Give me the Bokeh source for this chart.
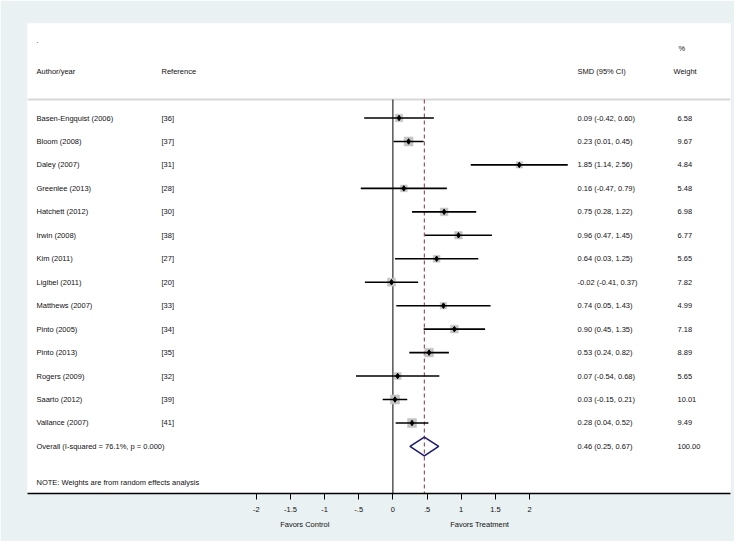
import numpy as np
from bokeh.plotting import figure
from bokeh.models import Range1d, FixedTicker, ColumnDataSource, LinearAxis
from bokeh.core.properties import value
from bokeh.embed import file_html
from bokeh.resources import INLINE

# ---------------- data ----------------
authors = ["Basen-Engquist (2006)", "Bloom (2008)", "Daley (2007)", "Greenlee (2013)",
           "Hatchett (2012)", "Irwin (2008)", "Kim (2011)", "Ligibel (2011)",
           "Matthews (2007)", "Pinto (2005)", "Pinto (2013)", "Rogers (2009)",
           "Saarto (2012)", "Vallance (2007)"]
refs = ["[36]", "[37]", "[31]", "[28]", "[30]", "[38]", "[27]", "[20]",
        "[33]", "[34]", "[35]", "[32]", "[39]", "[41]"]
smd = [0.09, 0.23, 1.85, 0.16, 0.75, 0.96, 0.64, -0.02, 0.74, 0.90, 0.53, 0.07, 0.03, 0.28]
ci_low = [-0.42, 0.01, 1.14, -0.47, 0.28, 0.47, 0.03, -0.41, 0.05, 0.45, 0.24, -0.54, -0.15, 0.04]
ci_high = [0.60, 0.45, 2.56, 0.79, 1.22, 1.45, 1.25, 0.37, 1.43, 1.35, 0.82, 0.68, 0.21, 0.52]
weights = [6.58, 9.67, 4.84, 5.48, 6.98, 6.77, 5.65, 7.82, 4.99, 7.18, 8.89, 5.65, 10.01, 9.49]

overall_smd = 0.46
overall_low = 0.25
overall_high = 0.67
overall_weight = 100.00
overall_label = "Overall  (I-squared = 76.1%, p = 0.000)"
note_text = "NOTE: Weights are from random effects analysis"

header_top = [".", "%"]
header_cols = ["Author/year", "Reference", "SMD (95% CI)", "Weight"]
tick_values = [-2, -1.5, -1, -0.5, 0, 0.5, 1, 1.5, 2]
tick_labels = ["-2", "-1.5", "-1", "-.5", "0", ".5", "1", "1.5", "2"]
favors = ["Favors Control", "Favors Treatment"]

# ---------------- layout helpers ----------------
W, H = 734, 541
PX_PER_UNIT = 68.3      # horizontal pixels per SMD unit
ZERO_X = 392.4          # canvas x of SMD = 0
ROW0_Y = 117.5          # canvas y of first study row
ROW_H = 23.46           # pixels per row
FONT = "Liberation Sans"
FS = "7.5px"
TXT = "#111111"
BG = "#E9F1F2"


def xd(px):
    return (px - ZERO_X) / PX_PER_UNIT


def yd(py):
    return (py - ROW0_Y) / ROW_H


frame_l, frame_r, frame_t, frame_b = 27, 730, 23, 493

p = figure(width=W, height=H, output_backend="svg", toolbar_location=None,
           x_range=Range1d(xd(frame_l), xd(frame_r)),
           y_range=Range1d(yd(frame_b), yd(frame_t)),
           y_axis_location=None,
           min_border_left=frame_l, min_border_right=W - frame_r,
           min_border_top=frame_t, min_border_bottom=H - frame_b)
p.background_fill_color = "white"
p.border_fill_color = BG
p.outline_line_color = None
p.grid.visible = False

n = len(authors)
rows = list(range(n))
overall_row = n
note_row = yd(482)

# separator under header
sep_y = yd(99)
p.segment(x0=[xd(frame_l)], y0=[sep_y], x1=[xd(frame_r)], y1=[sep_y],
          line_color="#D8D8D8", line_width=2)

# reference line at 0 and overall dashed line
p.segment(x0=[0], y0=[sep_y], x1=[0], y1=[yd(frame_b)], line_color="black", line_width=1)
p.segment(x0=[overall_smd], y0=[sep_y], x1=[overall_smd], y1=[yd(frame_b)],
          line_color="#8E2F42", line_width=1, line_dash="4 3")

src = ColumnDataSource(dict(
    y=rows, smd=smd, lo=ci_low, hi=ci_high, w=weights,
    size=[2.9 * np.sqrt(w) for w in weights],
    author=authors, ref=refs,
    ci=[f"{s:.2f} ({a:.2f}, {b:.2f})" for s, a, b in zip(smd, ci_low, ci_high)],
    wt=[f"{w:.2f}" for w in weights],
))

# weight squares
p.scatter(x="smd", y="y", size="size", marker="square", source=src,
          fill_color="#C4C4C4", line_color="#C4C4C4", line_width=0.5)
# confidence intervals
p.segment(x0="lo", y0="y", x1="hi", y1="y", source=src, line_color="black", line_width=1.6)
# point estimates
p.scatter(x="smd", y="y", size=5.5, marker="diamond", source=src,
          fill_color="black", line_color="black")

# overall diamond
dh = 0.4
p.patch(x=[overall_low, overall_smd, overall_high, overall_smd, overall_low],
        y=[overall_row, overall_row - dh, overall_row, overall_row + dh, overall_row],
        fill_color=None, line_color="#1B1B7F", line_width=1.6)

text_kw = dict(text_font=value(FONT), text_font_size=FS, text_baseline="middle",
               text_align="left", text_color=TXT)

col_author = xd(36)
col_ref = xd(161)
col_ci = xd(577)
col_w = xd(677)

p.text(x=col_author, y="y", text="author", source=src, **text_kw)
p.text(x=col_ref, y="y", text="ref", source=src, **text_kw)
p.text(x=col_ci, y="y", text="ci", source=src, **text_kw)
p.text(x=col_w, y="y", text="wt", source=src, **text_kw)

# overall row and note
p.text(x=[col_author], y=[overall_row], text=[overall_label], **text_kw)
p.text(x=[col_ci], y=[overall_row],
       text=[f"{overall_smd:.2f} ({overall_low:.2f}, {overall_high:.2f})"], **text_kw)
p.text(x=[col_w], y=[overall_row], text=[f"{overall_weight:.2f}"], **text_kw)
p.text(x=[col_author], y=[note_row], text=[note_text], **text_kw)

# headers
p.text(x=[col_author], y=[yd(40)], text=[header_top[0]], **text_kw)
p.text(x=[xd(678)], y=[yd(48)], text=[header_top[1]], **text_kw)
p.text(x=[col_author, col_ref, col_ci, xd(673)], y=[yd(71)] * 4, text=header_cols, **text_kw)

# x axis
ax = p.xaxis[0]
ax.ticker = FixedTicker(ticks=tick_values)
ax.major_label_overrides = {v: l for v, l in zip(tick_values, tick_labels)}
ax.minor_tick_line_color = None
ax.axis_line_width = 1.6
ax.axis_line_color = "black"
ax.major_tick_out = 6
ax.major_tick_in = 0
ax.major_tick_line_color = "black"
ax.major_label_standoff = 7
ax.major_label_text_font = FONT
ax.major_label_text_font_size = FS
ax.major_label_text_color = TXT

# "Favors" captions: an extra label-only axis below the main one
gap = "\u00a0" * 58
lead = "\u00a0" * 15
fav_axis = LinearAxis(ticker=FixedTicker(ticks=[]),
                      axis_label=lead + favors[0] + gap + favors[1])
fav_axis.axis_line_color = None
fav_axis.major_tick_line_color = None
fav_axis.minor_tick_line_color = None
fav_axis.major_label_text_font_size = "0px"
fav_axis.axis_label_standoff = 5
fav_axis.axis_label_text_font = FONT
fav_axis.axis_label_text_font_size = FS
fav_axis.axis_label_text_font_style = "normal"
fav_axis.axis_label_text_color = TXT
p.add_layout(fav_axis, "below")

open("out.html", "w").write(file_html(p, INLINE))
